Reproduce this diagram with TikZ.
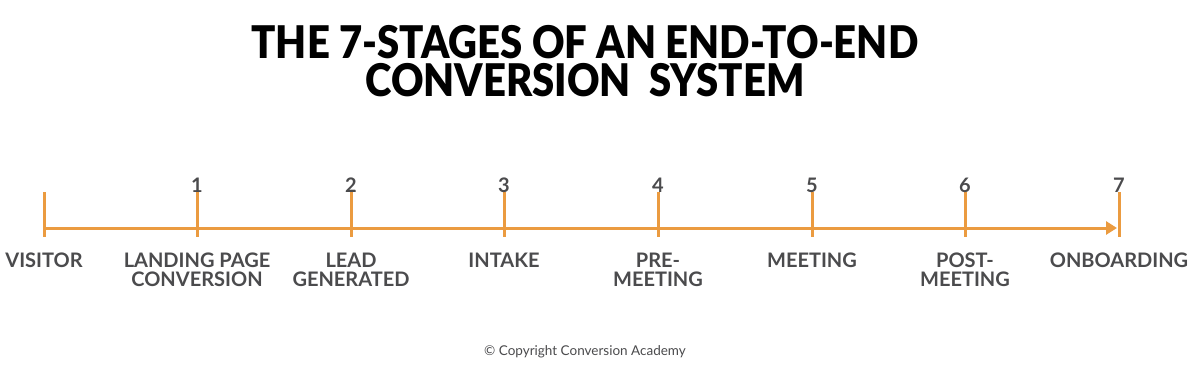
\documentclass[tikz,border=0pt]{standalone}
\usepackage{fontspec}
\setmainfont{Lato}
\newfontfamily\blackfont[FakeStretch=0.89]{Lato Black}
\usetikzlibrary{arrows.meta}
\definecolor{orng}{HTML}{EB9B40}
\definecolor{txtgray}{HTML}{4B4B4D}
\tikzset{
  axisline/.style={draw=orng, line width=3pt},
  tickline/.style={draw=orng, line width=3pt},
  titletext/.style={anchor=base, inner sep=0pt, font=\blackfont\fontsize{45}{39}\selectfont},
  numlabel/.style={anchor=south, inner sep=0pt, text=txtgray, font=\bfseries\fontsize{20}{20}\selectfont},
  stagelabel/.style={anchor=north, inner sep=0pt, align=center, text=txtgray, font=\bfseries\fontsize{20}{19}\selectfont},
}
\begin{document}
\begin{tikzpicture}[x=1pt,y=-1pt]
\useasboundingbox[fill=white] (0,0) rectangle (1200,372);
% title
\node (title1) [titletext] at (585,58) {THE 7-STAGES OF AN END-TO-END};
\node (title2) [titletext] at (585,96) {CONVERSION\ \ SYSTEM};
% ticks
\foreach \i/\x in {0/44,1/197,2/351,3/504,4/658,5/812,6/965,7/1119}{
  \coordinate (t\i) at (\x,228);
  \coordinate (t\i top) at (\x,192);
  \coordinate (t\i bot) at (\x,237);
  \draw[tickline] (t\i top) -- (t\i bot);
}
\draw[axisline, -{Triangle[length=11pt,width=13pt]}, shorten >=2pt] (t0) -- (t7);
% numbers
\foreach \i in {1,...,7}{
  \node (n\i) [numlabel] at ([yshift=-1pt]t\i top) {\i};
}
% labels
\node (l0) [stagelabel] at (44,253) {VISITOR};
\node (l1) [stagelabel] at (197,253) {LANDING PAGE\\CONVERSION};
\node (l2) [stagelabel] at (351,253) {LEAD\\GENERATED};
\node (l3) [stagelabel] at (504,253) {INTAKE};
\node (l4) [stagelabel] at (658,253) {PRE-\\MEETING};
\node (l5) [stagelabel] at (812,253) {MEETING};
\node (l6) [stagelabel] at (965,253) {POST-\\MEETING};
\node (l7) [stagelabel] at (1119,253) {ONBOARDING};
% copyright
\node (copy) [anchor=base, inner sep=0pt, text=txtgray, font=\fontsize{13.5}{14}\selectfont] at (585,355) {© Copyright Conversion Academy};
\end{tikzpicture}
\end{document}
